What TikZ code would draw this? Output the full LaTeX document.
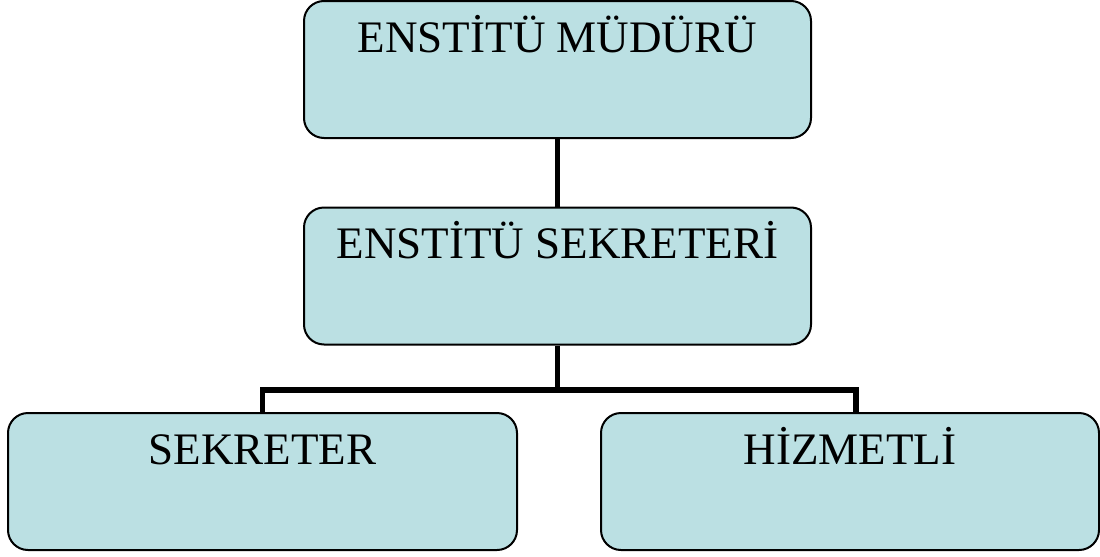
\documentclass[tikz,border=0pt]{standalone}
\usepackage{fontspec}
\setmainfont{Liberation Serif}
\usepackage{xcolor}
\usetikzlibrary{positioning,calc}
\definecolor{BoxBlue}{RGB}{187,224,227}

\begin{document}
\begin{tikzpicture}[x=0.75pt, y=-0.75pt]
	\tikzset{
		box/.style={rectangle, rounded corners=15pt, draw=black, line width=1.5pt,
			fill=BoxBlue, inner sep=0pt, text height=38.25pt, text depth=64.5pt,
			font=\fontsize{33.8}{40}\selectfont},
		link/.style={draw=black, line width=3.8pt}
	}
	\useasboundingbox (0,0) rectangle (1100,557);
	
	\node[box, minimum width=380.25pt] (mudur) at (557.5, 69.5) {ENSTİTÜ MÜDÜRÜ};
	\node[box, minimum width=380.25pt] (sekreteri) at (557.5, 276) {ENSTİTÜ SEKRETERİ};
	\node[box, minimum width=381.75pt] (sekreter) at (262.5, 481.5) {SEKRETER};
	\node[box, minimum width=373.5pt] (hizmetli) at (850, 481.5) {HİZMETLİ};
	
	% connectors
	\draw[link] (mudur.south) -- (sekreteri.north);
	\draw[link] (sekreteri.south) -- (557.5, 390) coordinate (bus);
	\coordinate (hdrop) at (856, 413);
	\draw[link] (bus) -| (sekreter.north);
	\draw[link] (bus) -| (hdrop);
\end{tikzpicture}
\end{document}
